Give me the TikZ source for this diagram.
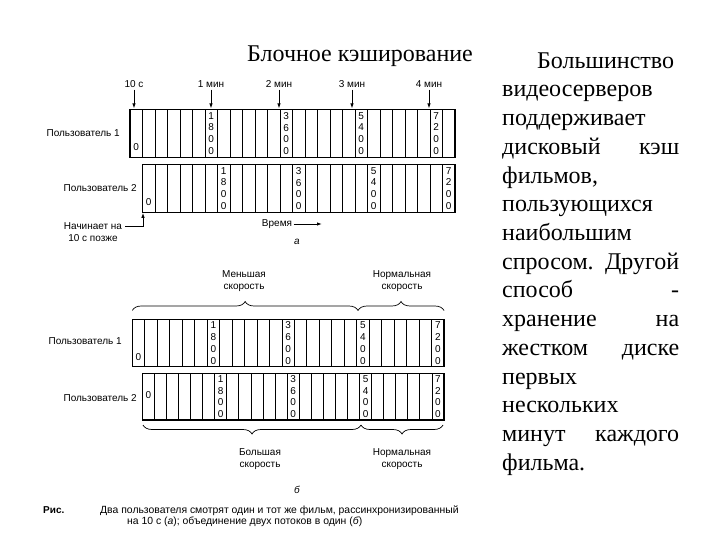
\documentclass[tikz,border=0pt]{standalone}
\usepackage{fontspec}
\setmainfont{Liberation Serif}
\newfontfamily\figfont{Liberation Sans}
\usetikzlibrary{decorations.pathreplacing,arrows.meta}
\begin{document}
\begin{tikzpicture}[x=1pt,y=-1pt,
  lbl/.style={font=\figfont\fontsize{10}{12}\selectfont, inner sep=0pt, align=center},
  digits/.style={font=\figfont\fontsize{10}{11.8}\selectfont, inner sep=0pt, align=center},
  captxt/.style={font=\figfont\fontsize{10.4}{12}\selectfont, inner sep=0pt, anchor=base west},
  bodytxt/.style={font=\fontsize{24}{28.7}\selectfont, inner sep=0pt, anchor=base west},
  rowframe/.style={line width=1.2pt},
  celline/.style={line width=0.85pt},
  arr/.style={line width=0.9pt, -{Latex[length=5pt,width=3.5pt]}},
  brc/.style={line width=0.7pt, decorate, decoration={brace, amplitude=9pt}},
  brcm/.style={line width=0.7pt, decorate, decoration={brace, amplitude=9pt, mirror}}]
\useasboundingbox (0,0) rectangle (720,540);
\fill[white] (0,0) rectangle (720,540);

% ---------- title and right text ----------
\node[bodytxt] (title) at (247,61.7) {Блочное кэширование};
\node[bodytxt] (r1) at (537,68.3) {Большинство};
\node[bodytxt] (r2) at (502,97.0) {видеосерверов};
\node[bodytxt] (r3) at (502,125.7) {поддерживает};
\node[bodytxt] (r4) at (502,154.4) {\makebox[177pt][s]{дисковый\hfill кэш}};
\node[bodytxt] (r5) at (502,183.1) {фильмов,};
\node[bodytxt] (r6) at (502,211.8) {пользующихся};
\node[bodytxt] (r7) at (502,240.5) {наибольшим};
\node[bodytxt] (r8) at (502,269.2) {\makebox[177pt][s]{спросом.\hfill Другой}};
\node[bodytxt] (r9) at (502,297.9) {\makebox[177pt][s]{способ\hfill -}};
\node[bodytxt] (r10) at (502,326.6) {\makebox[177pt][s]{хранение\hfill на}};
\node[bodytxt] (r11) at (502,355.3) {\makebox[177pt][s]{жестком\hfill диске}};
\node[bodytxt] (r12) at (502,384.0) {первых};
\node[bodytxt] (r13) at (502,412.7) {нескольких};
\node[bodytxt] (r14) at (502,441.4) {\makebox[177pt][s]{минут\hfill каждого}};
\node[bodytxt] (r15) at (502,470.1) {фильма.};

% ---------- (a) row 1 ----------
\draw[rowframe] (130,109.5) rectangle (455,157.5);
\foreach \k in {1,...,25} \draw[celline] ({130+\k*12.5},109.5) -- ({130+\k*12.5},157.5);
\node[lbl] (za1) at (136.25,147.5) {0};
\foreach \i/\a/\b in {6/1/8,12/3/6,18/5/4,24/7/2}
  \node[digits] (na1-\i) at ({130+\i*12.5+6.25},133.5) {\a\\\b\\0\\0};
% ---------- (a) row 2 ----------
\draw[rowframe] (142.5,164.5) rectangle (455,212.5);
\foreach \k in {1,...,24} \draw[celline] ({142.5+\k*12.5},164.5) -- ({142.5+\k*12.5},212.5);
\node[lbl] (za2) at (148.75,202.5) {0};
\foreach \i/\a/\b in {6/1/8,12/3/6,18/5/4,24/7/2}
  \node[digits] (na2-\i) at ({142.5+\i*12.5+6.25},188.5) {\a\\\b\\0\\0};

\node[lbl, anchor=east] (ua1) at (120,133) {Пользователь 1};
\node[lbl, anchor=east] (ua2) at (137,188) {Пользователь 2};

% minute marks
\node[lbl] (m0) at (134,84) {10 с};
\node[lbl] (m1) at (211,84) {1 мин};
\node[lbl] (m2) at (279,84) {2 мин};
\node[lbl] (m3) at (352,84) {3 мин};
\node[lbl] (m4) at (429,84) {4 мин};
\foreach \mn/\mx in {0/134,1/211,2/279,3/352,4/429}{
  \coordinate (t\mn) at (\mx,108.5);
  \draw[arr, shorten <=2pt] (m\mn.south) -- (t\mn);
}

% late start
\node[lbl] (late) at (93,232) {Начинает на\\10 с позже};
\coordinate (c2) at (143,212.8);
\coordinate (lateA) at (125,226);
\draw[arr] (lateA) -| (c2);

% time
\node[lbl] (timelbl) at (277,224) {Время};
\coordinate (timeE) at (322,224);
\draw[arr, shorten <=1.5pt] (timelbl) -- (timeE);
\node[lbl, font=\figfont\itshape\fontsize{10}{12}\selectfont] (la) at (297,242) {а};

% ---------- (b) ----------
\node[lbl] (slow) at (244,281) {Меньшая\\скорость};
\node[lbl] (norm1) at (402,281) {Нормальная\\скорость};
\coordinate (b1a) at (132.3,310.5);
\coordinate (b1b) at (358,310.5);
\coordinate (b1c) at (444,310.5);
\draw[brc] (b1a) -- (b1b);
\draw[brc] (b1b) -- (b1c);

\draw[rowframe] (132.3,319.3) rectangle (444,366.7);
\foreach \k in {1,...,24} \draw[celline] ({132.3+\k*12.47},319.3) -- ({132.3+\k*12.47},366.7);
\node[lbl] (zb1) at (138.5,357.5) {0};
\foreach \i/\a/\b in {6/1/8,12/3/6,18/5/4,24/7/2}
  \node[digits] (nb1-\i) at ({132.3+\i*12.47+6.23},343) {\a\\\b\\0\\0};

\draw[rowframe] (142.3,373.3) rectangle (444,420);
\foreach \k in {1,...,24} \draw[celline] ({142.3+\k*12.07},373.3) -- ({142.3+\k*12.07},420);
\node[lbl] (zb2) at (148.3,395.5) {0};
\foreach \i/\a/\b in {6/1/8,12/3/6,18/5/4,24/7/2}
  \node[digits] (nb2-\i) at ({142.3+\i*12.07+6.03},396.6) {\a\\\b\\0\\0};

\node[lbl, anchor=east] (ub1) at (122,341) {Пользователь 1};
\node[lbl, anchor=east] (ub2) at (137,398) {Пользователь 2};

\coordinate (b2a) at (143,425);
\coordinate (b2b) at (361,425);
\coordinate (b2c) at (443,425);
\draw[brcm] (b2a) -- (b2b);
\draw[brcm] (b2b) -- (b2c);
\node[lbl] (fast) at (260,459) {Большая\\скорость};
\node[lbl] (norm2) at (402,459) {Нормальная\\скорость};
\node[lbl, font=\figfont\itshape\fontsize{10}{12}\selectfont] (lb) at (297,490) {б};

% ---------- caption ----------
\node[captxt, font=\figfont\bfseries\fontsize{10}{12}\selectfont] (ris) at (43,513) {Рис.};
\node[captxt] (cap1) at (100,513) {Два пользователя смотрят один и тот же фильм, рассинхронизированный};
\node[captxt] (cap2) at (127,524) {на 10 с (\textit{а}); объединение двух потоков в один (\textit{б})};
\end{tikzpicture}
\end{document}
